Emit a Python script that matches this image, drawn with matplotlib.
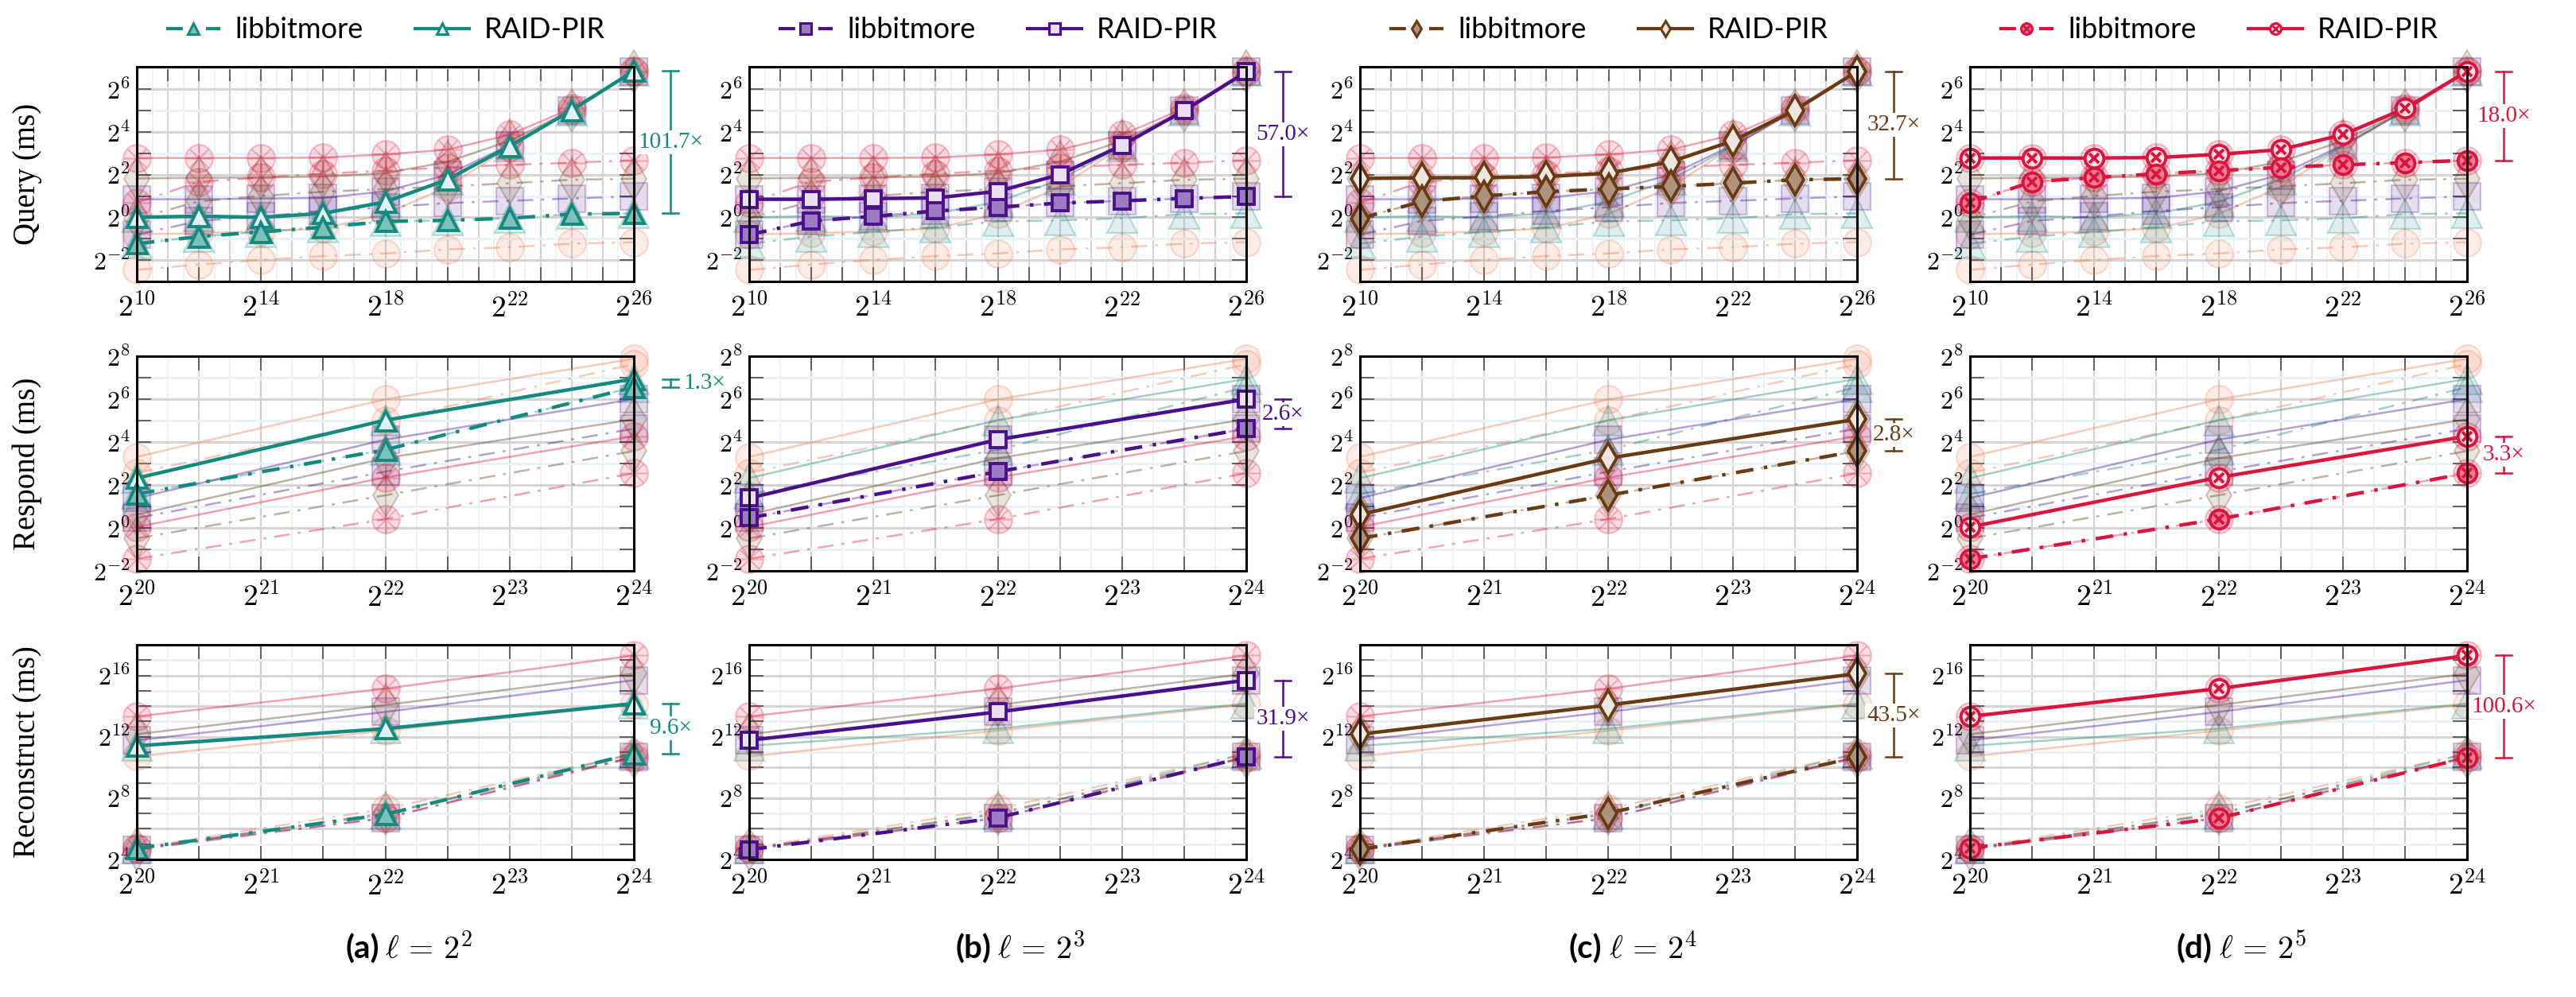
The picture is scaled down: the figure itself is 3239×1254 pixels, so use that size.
import numpy as np
import matplotlib
matplotlib.use("Agg")
import matplotlib.pyplot as plt
from matplotlib.lines import Line2D
from matplotlib.legend_handler import HandlerTuple
from matplotlib.ticker import FixedLocator, FuncFormatter, NullFormatter
import matplotlib.colors as mcolors

plt.rcParams['mathtext.fontset'] = 'cm'

# ---------------- data ----------------
query_x = [2**10, 2**12, 2**14, 2**16, 2**18, 2**20, 2**22, 2**24, 2**26]
db_x = [2**20, 2**22, 2**24]

ell_names = ["2^1", "2^2", "2^3", "2^4", "2^5"]
shown_ells = [1, 2, 3, 4]          # indices of ell_names that get their own column
panel_letters = ["a", "b", "c", "d"]
series_names = ["libbitmore", "RAID-PIR"]

# Query time (ms)
query_lib = [
    [0.182, 0.216, 0.252, 0.285, 0.310, 0.354, 0.379, 0.426, 0.447],
    [0.426, 0.536, 0.624, 0.727, 0.877, 0.908, 0.973, 1.11, 1.141],
    [0.570, 0.889, 1.035, 1.23, 1.39, 1.59, 1.71, 1.85, 1.97],
    [0.966, 1.68, 2.00, 2.30, 2.51, 2.73, 3.03, 3.39, 3.50],
    [1.61, 3.18, 3.63, 4.11, 4.56, 5.06, 5.50, 5.90, 6.37],
]
query_raid = [
    [0.578, 0.599, 0.633, 0.697, 1.12, 2.68, 9.85, 32.0, 115.4],
    [1.00, 1.04, 1.00, 1.14, 1.65, 3.41, 10.06, 32.4, 116.0],
    [1.80, 1.80, 1.84, 1.88, 2.33, 4.00, 10.4, 31.8, 112.2],
    [3.53, 3.61, 3.63, 3.76, 4.20, 6.06, 11.96, 32.4, 114.6],
    [6.87, 6.87, 6.87, 6.96, 7.73, 9.00, 14.6, 34.3, 114.6],
]
# Respond time (ms)
resp_lib = [
    [5.94, 32.0, 198.0],
    [2.99, 12.47, 94.4],
    [1.38, 6.15, 24.6],
    [0.712, 2.87, 11.96],
    [0.369, 1.33, 5.85],
]
resp_raid = [
    [9.92, 63.6, 235.5],
    [4.99, 32.4, 122.8],
    [2.62, 17.3, 64.0],
    [1.54, 9.51, 33.4],
    [1.03, 5.10, 19.3],
]
# Reconstruct time (ms)
rec_lib = [
    [26.9, 158.0, 1911.0],
    [26.4, 122.0, 1920.0],
    [24.9, 105.0, 1657.0],
    [25.3, 130.0, 1637.0],
    [26.7, 103.0, 1604.0],
]
rec_raid = [
    [1687.0, 5405.0, 17560.0],
    [2721.0, 5914.0, 18430.0],
    [3493.0, 12590.0, 52860.0],
    [4608.0, 17200.0, 71200.0],
    [10300.0, 36100.0, 161400.0],
]

row_labels = ["Query (ms)", "Respond (ms)", "Reconstruct (ms)"]

# ---------------- style ----------------
colors = ["#f47a4a", "#138a80", "#4b0f8c", "#6a3a12", "#dc143c"]
markers = ["o", "^", "s", "d", "o"]
crossed = [False, False, False, False, True]
main_ms = {"o": 17, "^": 18, "s": 14, "d": 19}
fade_ms = {"o": 25, "^": 27, "s": 24, "d": 27}

W, H = 3239, 1254
fig = plt.figure(figsize=(W / 100, H / 100), dpi=100)

col_left = [172, 942, 1710, 2477]
ax_w = 625
row_top = [84, 448, 811]
ax_h = 270

GRAY = "#d4d4d4"
LBLUE = "#e6f3fa"
SERIF = ["Liberation Serif", "DejaVu Serif"]
SANS = ["Lato", "DejaVu Sans"]


def tint(c, f):
    r, g, b = mcolors.to_rgb(c)
    return (r + (1 - r) * f, g + (1 - g) * f, b + (1 - b) * f)


def rgba(c, a):
    r, g, b = mcolors.to_rgb(c)
    return (r, g, b, a)


def fmt_factory(label_set):
    def f(v, pos):
        e = np.log2(v)
        r = int(round(e))
        if abs(e - r) < 1e-6 and r in label_set:
            return r"$2^{%d}$" % r
        return ""
    return FuncFormatter(f)


LIB_LS = (0, (5, 3, 1, 3))
FADE_LIB_LS = (0, (8, 4, 1.5, 4))


def draw(ax, x, y, k, lib, faded):
    c = colors[k]
    m = markers[k]
    if faded:
        ms = fade_ms[m]
        ax.plot(x, y, color=rgba(c, 0.40), lw=1.8,
                ls=FADE_LIB_LS if lib else "-",
                marker=m, ms=ms, mfc=rgba(c, 0.14), mec=rgba(c, 0.25), mew=1.6,
                clip_on=False, zorder=2)
        if crossed[k]:
            ax.plot(x, y, ls="none", marker=(8, 2, 0), ms=ms * 0.95,
                    mec=rgba(c, 0.25), mew=1.2, clip_on=False, zorder=2)
    else:
        ms = main_ms[m]
        face = tint(c, 0.45) if lib else tint(c, 0.87)
        ax.plot(x, y, color=c, lw=3.2, ls=LIB_LS if lib else "-",
                marker=m, ms=ms, mfc=face, mec=c, mew=2.8,
                clip_on=False, zorder=6)
        if crossed[k]:
            ax.plot(x, y, ls="none", marker="x", ms=ms * 0.55, mec=c, mew=2.8,
                    clip_on=False, zorder=7)


rows = [
    (query_x, query_lib, query_raid, (2**-3, 2**7.05), list(range(-2, 8, 2)), list(range(-3, 8)), 1.0,
     {10, 14, 18, 22, 26}, (2**10, 2**26)),
    (db_x, resp_lib, resp_raid, (2**-2, 2**8), list(range(-2, 9, 2)), list(range(-2, 9)), 0.5,
     {20, 21, 22, 23, 24}, (2**20, 2**24)),
    (db_x, rec_lib, rec_raid, (2**4, 2**18), [4, 8, 12, 16], list(range(4, 19)), 0.5,
     {20, 21, 22, 23, 24}, (2**20, 2**24)),
]

for ci, k in enumerate(shown_ells):
    c = colors[k]
    for ri, (xs, libs, raids, ylim, ylab_exps, ytick_exps, xstep, xlab_set, xlim) in enumerate(rows):
        l = col_left[ci]
        t = row_top[ri]
        ax = fig.add_axes([l / W, 1 - (t + ax_h) / H, ax_w / W, ax_h / H])
        ax.set_xscale("log", base=2)
        ax.set_yscale("log", base=2)
        ax.set_xlim(*xlim)
        ax.set_ylim(*ylim)

        e0, e1 = np.log2(xlim[0]), np.log2(xlim[1])
        nx = int(round((e1 - e0) / xstep))
        xt = [2 ** (e0 + i * xstep) for i in range(nx + 1)]
        xm = [2 ** (e0 + (i + 0.5) * xstep) for i in range(nx)]
        ax.xaxis.set_major_locator(FixedLocator(xt))
        ax.xaxis.set_minor_locator(FixedLocator(xm))
        ax.xaxis.set_major_formatter(fmt_factory(xlab_set))
        ax.xaxis.set_minor_formatter(NullFormatter())

        ymaj = [2.0 ** e for e in ytick_exps if e % 2 == 0]
        ymin = [2.0 ** e for e in ytick_exps if e % 2 != 0]
        ax.yaxis.set_major_locator(FixedLocator(ymaj))
        ax.yaxis.set_minor_locator(FixedLocator(ymin))
        ax.yaxis.set_major_formatter(fmt_factory(set(ylab_exps)))
        ax.yaxis.set_minor_formatter(NullFormatter())

        ax.xaxis.grid(True, which="major", color=GRAY, lw=1.6, zorder=0)
        ax.xaxis.grid(True, which="minor", color=LBLUE, lw=1.4, zorder=0)
        ax.yaxis.grid(True, which="major", color=GRAY, lw=2.2, zorder=0)
        ax.yaxis.grid(True, which="minor", color=LBLUE, lw=2.2, zorder=0)
        ax.set_axisbelow(True)

        ax.tick_params(axis="both", which="major", direction="in", length=13, width=1.3,
                       color="#555555", top=True, right=True)
        ax.tick_params(axis="x", which="minor", length=0, top=True)
        ax.tick_params(axis="y", which="minor", direction="in", length=13, width=1.3,
                       color="#555555", right=True)
        ax.tick_params(axis="x", which="major", labelsize=27, pad=11)
        ax.tick_params(axis="y", which="major", labelsize=23, pad=6)
        for sp in ax.spines.values():
            sp.set_linewidth(2.2)
            sp.set_color("black")
            sp.set_zorder(8)

        # faded background series (all configurations)
        for kk in range(len(ell_names)):
            draw(ax, xs, raids[kk], kk, False, True)
            draw(ax, xs, libs[kk], kk, True, True)
        # highlighted series
        draw(ax, xs, raids[k], k, False, False)
        draw(ax, xs, libs[k], k, True, False)

        # speed-up bracket at the last point
        top_v = raids[k][-1]
        bot_v = libs[k][-1]
        ratio = top_v / bot_v
        tr = ax.get_yaxis_transform()
        bx = 1 + 46 / ax_w
        cap = 10 / ax_w
        ax.plot([bx, bx], [bot_v, top_v], color=c, lw=1.8, transform=tr, clip_on=False, zorder=9)
        for v in (bot_v, top_v):
            ax.plot([bx - cap, bx + cap], [v, v], color=c, lw=1.8, transform=tr, clip_on=False, zorder=9)
        mid = np.sqrt(top_v * bot_v)
        label = "%.1f\u00d7" % ratio
        if ratio < 2.0:
            ax.text(bx + cap + 6 / ax_w, mid, label, transform=tr, ha="left", va="center",
                    color=c, fontsize=21, family=SERIF, zorder=10, clip_on=False)
        else:
            ax.text(bx, mid, label, transform=tr, ha="center", va="center",
                    color=c, fontsize=21, family=SERIF, zorder=10, clip_on=False,
                    bbox=dict(fc="white", ec="none", pad=1.5))

        if ci == 0:
            ax.set_ylabel(row_labels[ri], fontsize=28, family=SERIF)
            ax.yaxis.set_label_coords(-0.19, 0.5)

    # legend above the column
    lw_leg = 3.0
    mk = markers[k]
    h_lib = Line2D([], [], color=c, lw=lw_leg, ls=LIB_LS, marker=mk, ms=10,
                   mfc=tint(c, 0.45), mec=c, mew=2.2)
    h_raid = Line2D([], [], color=c, lw=lw_leg, ls="-", marker=mk, ms=10,
                    mfc=tint(c, 0.87), mec=c, mew=2.2)
    if crossed[k]:
        x_lib = Line2D([], [], ls="none", marker="x", ms=5.5, mec=c, mew=2.0)
        x_raid = Line2D([], [], ls="none", marker="x", ms=5.5, mec=c, mew=2.0)
        handles = [(h_lib, x_lib), (h_raid, x_raid)]
    else:
        handles = [h_lib, h_raid]
    cx = (col_left[ci] + ax_w / 2) / W
    fig.legend(handles, series_names, loc="center", bbox_to_anchor=(cx, 1 - 38 / H),
               ncol=2, frameon=False, prop={"family": SANS, "size": 26},
               handlelength=1.9, handletextpad=0.5, columnspacing=1.8,
               handler_map={tuple: HandlerTuple(ndivide=1)})

    # caption
    cxp = col_left[ci] + ax_w / 2
    fig.text((cxp - 8) / W, 1 - 1194 / H, "(%s)" % panel_letters[ci], ha="right", va="center",
             fontsize=29, family=SANS, weight="bold")
    fig.text((cxp) / W, 1 - 1194 / H, r"$\ell\,=\,2^{%s}$" % ell_names[k].split("^")[1],
             ha="left", va="center", fontsize=29)

fig.savefig("out.png", dpi=100)
